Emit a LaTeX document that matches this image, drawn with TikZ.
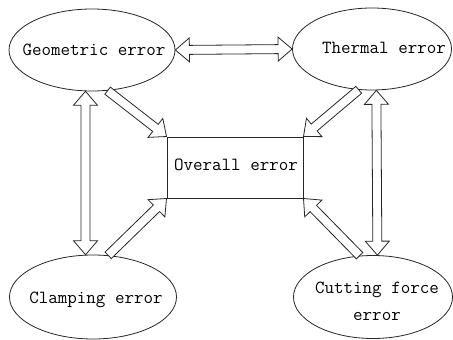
\documentclass[tikz,border=0pt]{standalone}
\usepackage{fontspec}
\usetikzlibrary{calc,shapes.geometric}
\tikzset{
  oval/.style={ellipse, draw=black!85, line width=0.8pt, inner sep=0pt},
  txt/.style={font=\ttfamily\fontsize{18.5}{27}\selectfont, align=center, inner sep=0pt},
  box/.style={draw=black!85, line width=1pt, minimum width=136pt, minimum height=61pt, inner sep=0pt},
  harrow/.style={draw=black!85, line width=0.8pt, fill=white, line join=miter}
}
% single hollow arrow from #1 (tail) to #2 (tip)
\newcommand\hollowArrow[2]{%
  \draw[harrow]
    ($(#1)!4.5pt!90:(#2)$) --
    ($(#2)!14pt!(#1)!4.5pt!-90:(#1)$) --
    ($(#2)!14pt!(#1)!12pt!-90:(#1)$) --
    (#2) --
    ($(#2)!14pt!(#1)!12pt!90:(#1)$) --
    ($(#2)!14pt!(#1)!4.5pt!90:(#1)$) --
    ($(#1)!4.5pt!-90:(#2)$) -- cycle;}
% double-headed hollow arrow between #1 and #2
\newcommand\hollowDArrow[2]{%
  \draw[harrow]
    ($(#1)!14pt!(#2)!4.5pt!90:(#2)$) --
    ($(#2)!14pt!(#1)!4.5pt!-90:(#1)$) --
    ($(#2)!14pt!(#1)!12pt!-90:(#1)$) --
    (#2) --
    ($(#2)!14pt!(#1)!12pt!90:(#1)$) --
    ($(#2)!14pt!(#1)!4.5pt!90:(#1)$) --
    ($(#1)!14pt!(#2)!4.5pt!-90:(#2)$) --
    ($(#1)!14pt!(#2)!12pt!-90:(#2)$) --
    (#1) --
    ($(#1)!14pt!(#2)!12pt!90:(#2)$) -- cycle;}
\begin{document}
\begin{tikzpicture}[x=1pt,y=-1pt]
\useasboundingbox (0,0) rectangle (453,340);
\node[oval, minimum width=166pt, minimum height=82pt] (geo) at (92,50) {};
\node[txt] (geot) at (94,50) {Geometric error};
\node[oval, minimum width=159pt, minimum height=82pt] (therm) at (372,49) {};
\node[txt] (thermt) at (384,48) {Thermal error};
\node[oval, minimum width=167pt, minimum height=84pt] (clamp) at (93,297) {};
\node[txt] (clampt) at (96,300) {Clamping error};
\node[oval, minimum width=159pt, minimum height=83pt] (cut) at (373,297) {};
\node[txt] (cutt) at (377,301) {Cutting force\\error};
\node[box] (all) at (235,167.5) {};
\node[txt] (allt) at (236,165) {Overall error};

\hollowDArrow{geo.east}{therm.west}
\hollowDArrow{geo.-99.7}{clamp.100.8}
\hollowDArrow{therm.-84.4}{cut.84.6}
\hollowArrow{geo.-69}{all.north west}
\hollowArrow{therm.-108.4}{all.north east}
\hollowArrow{clamp.70.7}{all.south west}
\hollowArrow{cut.108}{all.south east}
\end{tikzpicture}
\end{document}
